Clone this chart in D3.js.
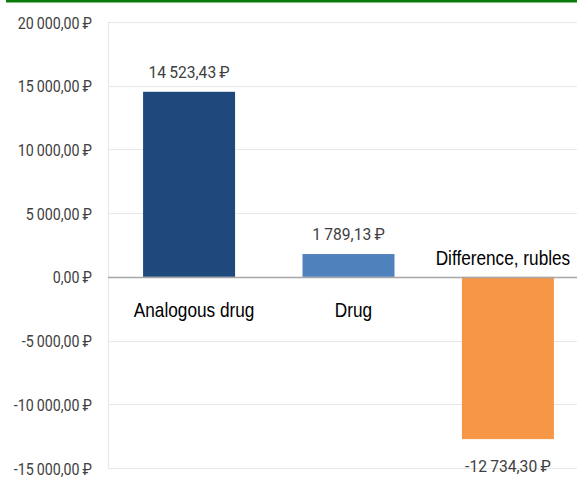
<!DOCTYPE html>
<html>
<head>
<meta charset="utf-8">
<script src="https://cdn.jsdelivr.net/npm/d3@7"></script>
<style>
  html, body { margin: 0; padding: 0; background: #fff; }
  svg { display: block; }
  .tick-label { font-family: "Roboto", sans-serif; font-size: 17px; fill: #404040; }
  .value-label { font-family: "Roboto", sans-serif; font-size: 17px; fill: #404040; }
  .cat-label { font-family: "Liberation Sans", Arial, sans-serif; font-size: 21px; fill: #000; }
</style>
</head>
<body>
<svg id="chart"></svg>
<script>
// Chart data
const categories = [ "Analogous drug", "Drug", "Difference, rubles" ];
const values = [ 14523.43, 1789.13, -12734.30 ];
const barColors = [ "#1f497d", "#4f81bd", "#f79646" ];
const tickValues = [ 20000, 15000, 10000, 5000, 0, -5000, -10000, -15000 ];

var svgWidth = 577,
    svgHeight = 477,
    plotLeft = 108,
    plotTop = 22,
    plotBottom = 468,
    tickSquash = 0.84,
    valueSquash = 0.92,
    catSquash = 0.82;

// formats 14523.43 -> "14 523,43 ₽"
function rub( v ) {
    var s = Math.abs( v ).toFixed( 2 ).split( "." );
    var intPart = s[ 0 ].replace( /\B(?=(\d{3})+(?!\d))/g, "\u2009" );
    return ( v < 0 ? "-" : "" ) + intPart + "," + s[ 1 ] + "\u2009\u20bd";
}

const svg = d3.select( "svg#chart" )
    .attr( "width", svgWidth )
    .attr( "height", svgHeight );

const y = d3.scaleLinear()
    .domain( [ -15000, 20000 ] )
    .range( [ plotBottom, plotTop ] );

const x = d3.scaleBand()
    .domain( categories )
    .range( [ plotLeft, 589 ] )
    .paddingInner( 0.423 )
    .paddingOuter( 0.22 );

// green frame line on top
svg.append( "rect" )
    .attr( "x", 6 ).attr( "y", 0 )
    .attr( "width", svgWidth - 6 ).attr( "height", 2.5 )
    .style( "fill", "#0a7a0a" );

// gridlines
svg.append( "g" )
    .selectAll( "line" )
    .data( tickValues.filter( function ( t ) { return t !== 0; } ) )
    .enter()
    .append( "line" )
    .attr( "x1", plotLeft ).attr( "x2", svgWidth )
    .attr( "y1", function ( d ) { return Math.round( y( d ) ) + 0.5; } )
    .attr( "y2", function ( d ) { return Math.round( y( d ) ) + 0.5; } )
    .style( "stroke", "#e8e8e8" )
    .style( "stroke-width", 1.2 );

// left border of plot area
svg.append( "line" )
    .attr( "x1", plotLeft + 0.5 ).attr( "x2", plotLeft + 0.5 )
    .attr( "y1", plotTop ).attr( "y2", plotBottom )
    .style( "stroke", "#e8e8e8" )
    .style( "stroke-width", 1.2 );

// y tick labels
svg.append( "g" )
    .selectAll( "text" )
    .data( tickValues )
    .enter()
    .append( "text" )
    .classed( "tick-label", true )
    .attr( "transform", function ( d ) {
        return "translate(" + [ 92, y( d ) + 6.5 ] + ") scale(" + tickSquash + ",1)";
    } )
    .attr( "text-anchor", "end" )
    .text( function ( d ) { return rub( d ); } );

// bars
const data = categories.map( function ( c, i ) {
    return { name: c, value: values[ i ], color: barColors[ i ] };
} );

svg.append( "g" )
    .selectAll( "rect" )
    .data( data )
    .enter()
    .append( "rect" )
    .attr( "x", function ( d ) { return x( d.name ); } )
    .attr( "width", x.bandwidth() )
    .attr( "y", function ( d ) { return y( Math.max( 0, d.value ) ); } )
    .attr( "height", function ( d ) { return Math.abs( y( d.value ) - y( 0 ) ); } )
    .style( "fill", function ( d ) { return d.color; } );

// zero line
svg.append( "line" )
    .attr( "x1", plotLeft ).attr( "x2", svgWidth )
    .attr( "y1", Math.round( y( 0 ) ) + 0.5 ).attr( "y2", Math.round( y( 0 ) ) + 0.5 )
    .style( "stroke", "#a6a6a6" )
    .style( "stroke-width", 1.3 );

// value labels
svg.append( "g" )
    .selectAll( "text" )
    .data( data )
    .enter()
    .append( "text" )
    .classed( "value-label", true )
    .attr( "transform", function ( d ) {
        var ty = d.value >= 0 ? y( d.value ) - 14 : y( d.value ) + 33;
        return "translate(" + [ x( d.name ) + x.bandwidth() / 2, ty ] + ") scale(" + valueSquash + ",1)";
    } )
    .attr( "text-anchor", "middle" )
    .text( function ( d ) { return rub( d.value ); } );

// category labels
svg.append( "g" )
    .selectAll( "text" )
    .data( data )
    .enter()
    .append( "text" )
    .classed( "cat-label", true )
    .attr( "transform", function ( d, i ) {
        var tx = x( d.name ) + x.bandwidth() / 2 + ( i === 2 ? -5 : 5 );
        var ty = d.value >= 0 ? y( 0 ) + 40 : y( 0 ) - 12;
        return "translate(" + [ tx, ty ] + ") scale(" + catSquash + ",1)";
    } )
    .attr( "text-anchor", "middle" )
    .text( function ( d ) { return d.name; } );
</script>
</body>
</html>
